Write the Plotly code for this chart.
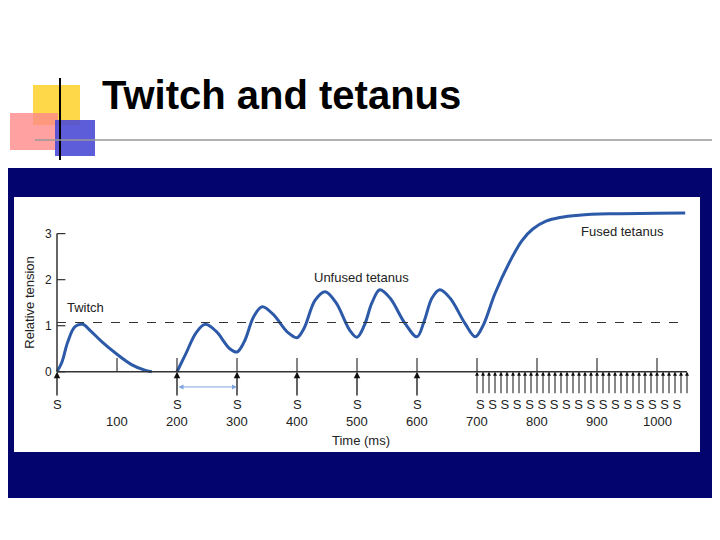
import plotly.graph_objects as go

# tension trace (ms, relative tension)
twitch_t = [0, 8, 18, 30, 43, 55, 75, 100, 125, 145, 158]
twitch_v = [0, 0.2, 0.65, 0.98, 1.03, 0.9, 0.65, 0.38, 0.15, 0.04, 0]
tet_t = [200, 215, 232, 247, 265, 288, 300, 312, 328, 342, 360, 385, 400, 412, 430, 447, 465, 488, 500,
         512, 525, 538, 555, 580, 600, 612, 625, 638, 655, 680, 697, 710, 730, 755, 775, 793, 815, 838, 870, 920, 1000, 1047]
tet_v = [0, 0.4, 0.85, 1.03, 0.88, 0.5, 0.43, 0.65, 1.2, 1.41, 1.25, 0.85, 0.74, 0.95, 1.55, 1.74, 1.5, 0.9, 0.75,
         1.0, 1.5, 1.78, 1.6, 1.05, 0.76, 1.1, 1.6, 1.78, 1.6, 1.05, 0.76, 1.0, 1.7, 2.4, 2.85, 3.1, 3.27, 3.35, 3.4, 3.43, 3.44, 3.45]
single_stim = [0, 200, 300, 400, 500, 600]
fused_stim = list(range(700, 1051, 10))
x_ticks = [100, 200, 300, 400, 500, 600, 700, 800, 900, 1000]
y_ticks = [0, 1, 2, 3]

BLUE = "#2c5aa8"
OFF = 8  # page body margin
L, R, T, B = 21 - OFF, 27 + OFF, 206 - OFF, 90 + OFF
W, H = 720, 540


def px(x):
    return (x - OFF - L) / (W - L - R)


def py(y):
    return 1 - (y - OFF - T) / (H - T - B)


fig = go.Figure()
fig.add_trace(go.Scatter(x=twitch_t, y=twitch_v, mode="lines", line=dict(color=BLUE, width=3, shape="spline")))
fig.add_trace(go.Scatter(x=tet_t, y=tet_v, mode="lines", line=dict(color=BLUE, width=3, shape="spline")))

shapes = [
    dict(type="rect", xref="paper", yref="paper", x0=px(3), x1=px(712), y0=py(168), y1=py(498),
         fillcolor="#04046e", line_width=0, layer="below"),
    dict(type="rect", xref="paper", yref="paper", x0=px(14), x1=px(700), y0=py(197), y1=py(452),
         fillcolor="white", line_width=0, layer="below"),
    dict(type="rect", xref="paper", yref="paper", x0=px(33), x1=px(80), y0=py(85), y1=py(125),
         fillcolor="#ffd84a", line_width=0),
    dict(type="rect", xref="paper", yref="paper", x0=px(10), x1=px(58), y0=py(113), y1=py(150),
         fillcolor="#ff8a8a", opacity=0.8, line_width=0),
    dict(type="rect", xref="paper", yref="paper", x0=px(55), x1=px(95), y0=py(120), y1=py(156),
         fillcolor="#4b4bd6", opacity=0.9, line_width=0),
    dict(type="line", xref="paper", yref="paper", x0=px(60), x1=px(60), y0=py(78), y1=py(160),
         line=dict(color="black", width=2)),
    dict(type="line", xref="paper", yref="paper", x0=px(35), x1=px(718), y0=py(140), y1=py(140),
         line=dict(color="#999999", width=1.5)),
    # axes
    dict(type="line", x0=0, x1=1050, y0=0, y1=0, line=dict(color="#333", width=1.5)),
    dict(type="line", x0=0, x1=0, y0=0, y1=3, line=dict(color="#333", width=1.5)),
    dict(type="line", x0=0, x1=1050, y0=1.07, y1=1.07, line=dict(color="#333", width=1.2, dash="dash")),
]
for t in x_ticks:
    shapes.append(dict(type="line", x0=t, x1=t, y0=0, y1=0.3, line=dict(color="#333", width=1.2)))
for v in y_ticks:
    shapes.append(dict(type="line", x0=0, x1=14, y0=v, y1=v, line=dict(color="#333", width=1.2)))

ann = []
for s in single_stim:
    ann.append(dict(x=s, y=0, ax=s, ay=-0.55, xref="x", yref="y", axref="x", ayref="y", text="",
                    showarrow=True, arrowhead=2, arrowsize=1, arrowwidth=1.3, arrowcolor="#111"))
    ann.append(dict(x=s, y=-0.72, text="S", showarrow=False, font=dict(size=13, color="#222")))
for s in fused_stim:
    ann.append(dict(x=s, y=0, ax=s, ay=-0.5, xref="x", yref="y", axref="x", ayref="y", text="",
                    showarrow=True, arrowhead=2, arrowsize=0.8, arrowwidth=1, arrowcolor="#111"))
ann.append(dict(x=870, y=-0.72, text=" ".join(["S"] * 17), showarrow=False,
                font=dict(size=13, color="#222")))
for t in x_ticks:
    ann.append(dict(x=t, y=-1.07, text=str(t), showarrow=False, font=dict(size=13, color="#222")))
for v in y_ticks:
    ann.append(dict(x=-14, y=v, text=str(v), showarrow=False, font=dict(size=12, color="#222")))
ann += [
    dict(x=300, y=-0.33, ax=200, ay=-0.33, xref="x", yref="y", axref="x", ayref="y", text="",
         showarrow=True, arrowhead=2, arrowside="end+start", arrowwidth=1, arrowcolor="#7fa6dc"),
    dict(x=507, y=-1.5, text="Time (ms)", showarrow=False, font=dict(size=13, color="#222")),
    dict(x=-45, y=1.5, text="Relative tension", textangle=-90, showarrow=False, font=dict(size=13, color="#222")),
    dict(x=47, y=1.4, text="Twitch", showarrow=False, font=dict(size=13, color="#222")),
    dict(x=508, y=2.05, text="Unfused tetanus", showarrow=False, font=dict(size=13, color="#222")),
    dict(x=943, y=3.05, text="Fused tetanus", showarrow=False, font=dict(size=13, color="#222")),
    dict(xref="paper", yref="paper", x=px(100), y=py(95), xanchor="left", yanchor="middle",
         text="<b>Twitch and tetanus</b>", showarrow=False,
         font=dict(size=40, color="black", family="Liberation Sans")),
]

fig.update_layout(
    width=W, height=H, margin=dict(l=L, r=R, t=T, b=B), showlegend=False,
    paper_bgcolor="white", plot_bgcolor="rgba(0,0,0,0)",
    font=dict(family="Liberation Sans"),
    xaxis=dict(range=[-60, 1060], visible=False),
    yaxis=dict(range=[-1.7, 3.6], visible=False),
    shapes=shapes, annotations=ann,
)
fig.write_html("out.html")
